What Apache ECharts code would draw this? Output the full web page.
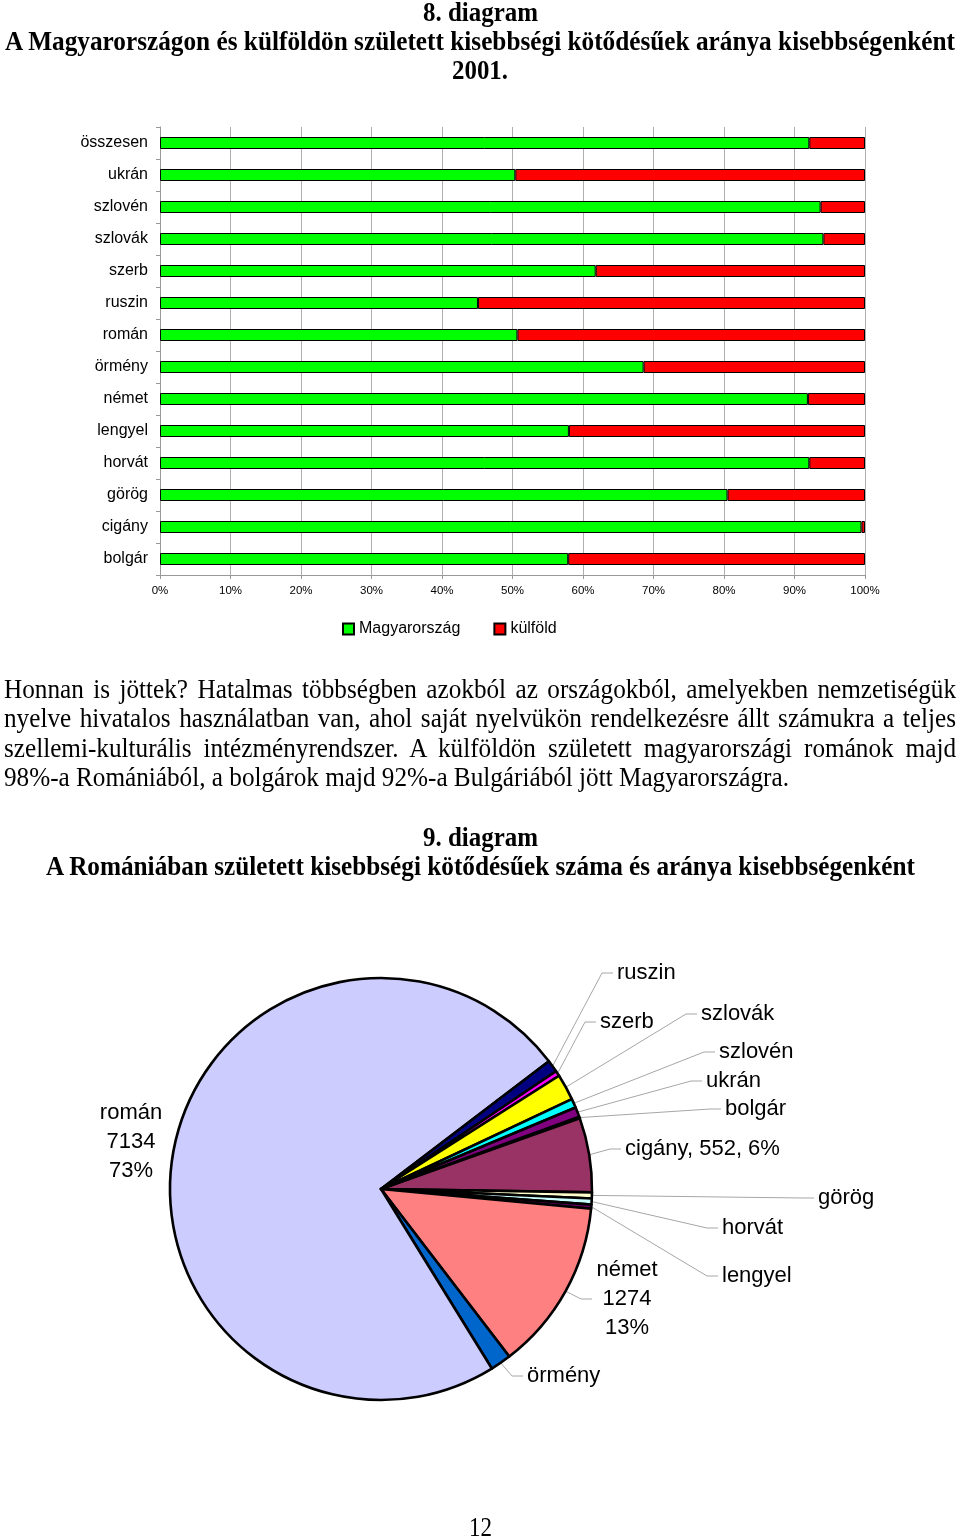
<!DOCTYPE html>
<html><head><meta charset="utf-8">
<script src="https://cdn.jsdelivr.net/npm/echarts@6/dist/echarts.min.js"></script>
<style>
html,body{margin:0;padding:0;background:#fff;}
#chart{position:absolute;left:0;top:0;width:960px;height:1537px;}
.t{position:absolute;white-space:nowrap;font-family:"Liberation Serif","Times New Roman",serif;color:#000;font-size:27px;line-height:30px;height:30px;transform-origin:0 0;}
.b{font-weight:bold;}
.pl{position:absolute;font-family:"Liberation Serif","Times New Roman",serif;color:#000;font-size:27px;line-height:30px;height:30px;transform-origin:0 0;white-space:normal;text-align:justify;text-align-last:justify;overflow:visible;}
</style></head><body>
<div id="chart"></div>
<div id="texts"></div>
<script>
// ---------- data ----------
const barCategories = ['összesen','ukrán','szlovén','szlovák','szerb','ruszin','román','örmény','német','lengyel','horvát','görög','cigány','bolgár'];
const magyarorszag = [92.1,50.4,93.7,94.1,61.8,45.1,50.7,68.6,91.9,58.0,92.1,80.5,99.5,57.9];
const kulfold      = [7.9,49.6,6.3,5.9,38.2,54.9,49.3,31.4,8.1,42.0,7.9,19.5,0.5,42.1];
const seriesNames = ['Magyarország','külföld'];

const pieNames  = ['bolgár','cigány','görög','horvát','lengyel','német','örmény','román','ruszin','szerb','szlovák','szlovén','ukrán'];
const pieValues = [12,552,45,45,30,1274,155,7134,90,40,195,68,73];

// ---------- styles / layout ----------
const pieColors = ['#9999FF','#993366','#FFFFCC','#CCFFFF','#660066','#FF8080','#0066CC','#CCCCFF','#000080','#FF00FF','#FFFF00','#00FFFF','#800080'];
const pieLabelPos = {
  'ruszin':[617,973,'left'], 'szerb':[600,1022,'left'], 'szlovák':[701,1014,'left'],
  'szlovén':[719,1052,'left'], 'ukrán':[706,1081,'left'], 'bolgár':[725,1109,'left'],
  'cigány':[625,1149,'left'], 'görög':[818,1198,'left'], 'horvát':[722,1228,'left'],
  'lengyel':[722,1276,'left'], 'német':[627,1299,'center',596], 'örmény':[527,1376,'left'],
  'román':[131,1142,'center']
};

const chart = echarts.init(document.getElementById('chart'), null, {renderer:'canvas'});
const sans = '"Liberation Sans", Arial, sans-serif';

chart.setOption({
  animation:false,
  textStyle:{fontFamily:sans},
  legend:{
    data:seriesNames, left:337, top:616, itemWidth:11, itemHeight:11, itemGap:33, icon:'rect',
    textStyle:{fontSize:16, color:'#000', fontFamily:sans}
  },
  grid:{left:160, top:127, width:705, height:448},
  xAxis:{
    type:'value', min:0, max:100, interval:10,
    axisLine:{show:true, lineStyle:{color:'#999'}},
    axisTick:{show:true, length:4, lineStyle:{color:'#999'}},
    axisLabel:{formatter:'{value}%', fontSize:11.5, color:'#000', margin:10, fontFamily:sans},
    splitLine:{show:true, lineStyle:{color:'#b0b0b0', width:1}}
  },
  yAxis:{
    type:'category', data:barCategories, inverse:true,
    axisLine:{show:true, lineStyle:{color:'#999'}},
    axisTick:{show:true, length:4, lineStyle:{color:'#999'}},
    axisLabel:{fontSize:16, color:'#000', margin:12, fontFamily:sans}
  },
  series:[
    {name:seriesNames[0], type:'bar', stack:'s', data:magyarorszag, barWidth:12,
     itemStyle:{color:'#00FF00', borderColor:'#000', borderWidth:1}},
    {name:seriesNames[1], type:'bar', stack:'s', data:kulfold, barWidth:12,
     itemStyle:{color:'#FF0000', borderColor:'#000', borderWidth:1}},
    {type:'pie', center:[381,1189], radius:211, startAngle:20, clockwise:true,
     avoidLabelOverlap:false, silent:true,
     data: pieNames.map((n,i)=>({name:n, value:pieValues[i], itemStyle:{color:pieColors[i]},
        labelLine: n==='román'?{show:false}:undefined})),
     itemStyle:{borderColor:'#000', borderWidth:2.6},
     label:{show:true, position:'outside', color:'#000', fontSize:22, lineHeight:29, fontFamily:sans,
       formatter:p=>{
         if(p.name==='román'||p.name==='német') return p.name+'\n'+p.value+'\n'+Math.round(p.percent)+'%';
         if(p.name==='cigány') return p.name+', '+p.value+', '+Math.round(p.percent)+'%';
         return p.name;
       }},
     labelLine:{show:true, length:10, length2:10, lineStyle:{color:'#a6a6a6', width:1}},
     labelLayout:function(params){
       const n = pieNames[params.dataIndex];
       const pos = pieLabelPos[n];
       if(!pos) return {};
       const res = {x:pos[0], y:pos[1], align:pos[2], verticalAlign:'middle'};
       if(params.labelLinePoints && n!=='román'){
         const lx = pos[3]!=null ? pos[3] : pos[0];
         const p0 = params.labelLinePoints[0];
         res.labelLinePoints = [p0, [lx-15, pos[1]], [lx-4, pos[1]]];
       }
       return res;
     }
    }
  ]
});

// ---------- text ----------
const texts = document.getElementById('texts');
function measure(el){ return el.getBoundingClientRect().width; }
function centered(txt, cx, cy, target, bold){
  const d = document.createElement('div');
  d.className = 't' + (bold?' b':'');
  d.textContent = txt;
  texts.appendChild(d);
  const w = measure(d);
  const s = target / w;
  d.style.left = (cx - target/2) + 'px';
  d.style.top = (cy - 15) + 'px';
  d.style.transform = 'scaleX(' + s + ')';
}
centered('8. diagram', 480, 12, 115, true);
centered('A Magyarországon és külföldön született kisebbségi kötődésűek aránya kisebbségenként', 480, 41, 950, true);
centered('2001.', 480, 70, 56, true);
centered('9. diagram', 480, 837, 115, true);
centered('A Romániában született kisebbségi kötődésűek száma és aránya kisebbségenként', 480, 866, 869, true);
centered('12', 480, 1527, 23, false);

const paraLines = [
  'Honnan is jöttek? Hatalmas többségben azokból az országokból, amelyekben nemzetiségük',
  'nyelve hivatalos használatban van, ahol saját nyelvükön rendelkezésre állt számukra a teljes',
  'szellemi-kulturális intézményrendszer. A külföldön született magyarországi románok majd',
  '98%-a Romániából, a bolgárok majd 92%-a Bulgáriából jött Magyarországra.'
];
const paraY = [689, 718, 748, 777];
const probe = document.createElement('div');
probe.className = 't';
probe.textContent = paraLines[3];
texts.appendChild(probe);
const ps = 785 / measure(probe);
texts.removeChild(probe);
paraLines.forEach((ln,i)=>{
  const d = document.createElement('div');
  d.className = 'pl';
  d.textContent = ln;
  d.style.left = '4px';
  d.style.top = (paraY[i]-15) + 'px';
  d.style.width = (952/ps) + 'px';
  d.style.transform = 'scaleX(' + ps + ')';
  if(i===paraLines.length-1){ d.style.textAlign='left'; d.style.textAlignLast='left'; }
  texts.appendChild(d);
});
</script>
</body></html>
